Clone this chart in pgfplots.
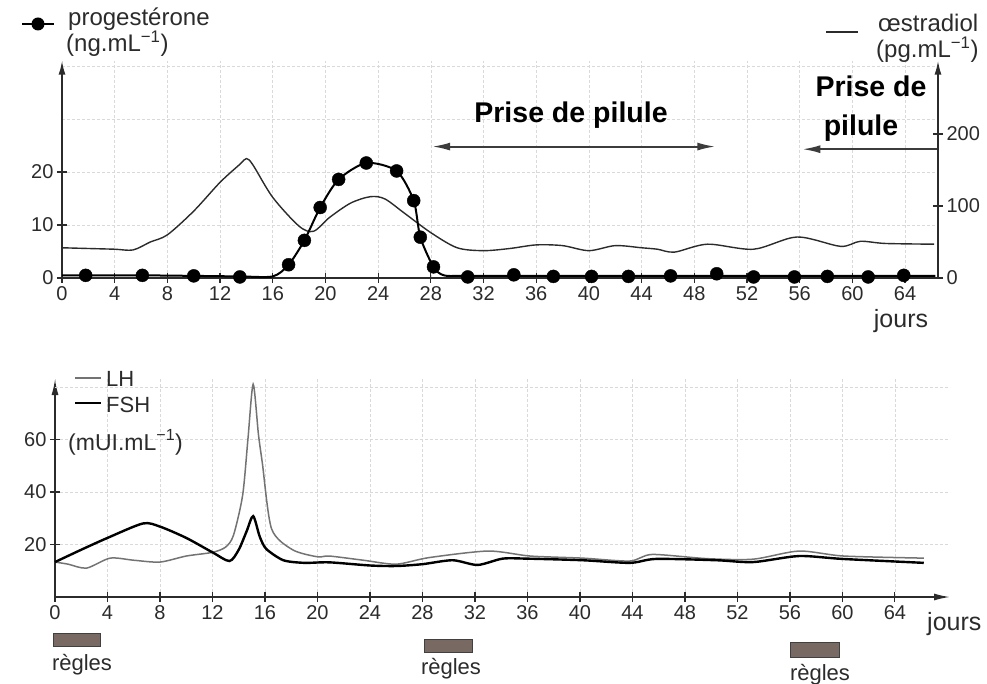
\documentclass[border=0pt]{standalone}
\usepackage{fontspec}
\setmainfont{Liberation Sans}
\usepackage{pgfplots}
\pgfplotsset{compat=1.18}
\usetikzlibrary{arrows.meta}
\definecolor{ink}{HTML}{2B2B2B}
\definecolor{gridc}{HTML}{D9D9D9}
\definecolor{regle}{HTML}{786A62}
\definecolor{arrowc}{HTML}{3C3C3C}
\newcommand{\fs}[1]{\fontsize{#1}{#1}\selectfont}
\begin{document}
\begin{tikzpicture}[x=1pt,y=1pt]
\useasboundingbox (0,0) rectangle (987,-684);
%=== top: grid only
\begin{axis}[at={(62pt,-278pt)}, anchor=south west, scale only axis,
  width=876pt, height=217.3pt, xmin=0, xmax=66.5, ymin=0, ymax=41,
  xtick={0,4,...,64}, ytick={0,10,20,30,40}, xticklabels={}, yticklabels={},
  axis line style={draw=none}, tick style={draw=none},
  grid=major, grid style={gridc, densely dashed, line width=0.6pt}]
\end{axis}
%=== top: oestradiol (right axis)
\begin{axis}[at={(62pt,-278pt)}, anchor=south west, scale only axis,
  width=876pt, height=217.3pt, xmin=0, xmax=66.5, ymin=0, ymax=302,
  axis x line=none, axis y line=right,
  y axis line style={-{Latex[length=14pt,width=7pt]}},
  axis line style={ink, line width=1.6pt},
  ytick={0,100,200}, tick style={ink, line width=1.2pt},
  major tick length=10pt, tick align=center,
  ticklabel style={font=\fs{20}, text=ink},
  /pgf/number format/assume math mode=true, clip=false]
\addplot[ink, line width=1.4pt, smooth, tension=0.5] coordinates {
(0,42) (2,41) (4,40) (5.4,39) (6.7,50) (8,60) (10,93) (12,133) (13.5,158) (14,166) (14.5,157)
(16,112) (18,72) (19.1,65) (20.3,84) (21.9,104) (23.4,113) (24.5,110) (26,90) (28,63)
(30,42) (32,38) (34,41) (36,46) (38,45) (40,38) (42,45) (44,42) (45.2,40) (46.5,36)
(49,47) (52.5,40) (55.8,57) (59.1,44) (60.6,51) (62.5,48) (66.2,47)};
\end{axis}
%=== top: progesterone (left axis)
\begin{axis}[at={(62pt,-278pt)}, anchor=south west, scale only axis,
  width=876pt, height=217.3pt, xmin=0, xmax=66.5, ymin=0, ymax=41,
  axis x line=bottom, axis y line=left,
  x axis line style={-}, y axis line style={-{Latex[length=14pt,width=7pt]}},
  axis line style={ink, line width=1.8pt},
  xtick={0,4,...,64}, ytick={0,10,20},
  tick style={ink, line width=1.2pt}, major tick length=10pt, tick align=center,
  ticklabel style={font=\fs{20}, text=ink},
  /pgf/number format/assume math mode=true, clip=false]
\addplot[black, line width=2pt, smooth, tension=0.45] coordinates {
(0,0.5) (1.8,0.5) (6.1,0.5) (10,0.4) (13.5,0.3) (16,0.3) (17.2,2.5) (18.4,7.1)
(19.6,13.3) (21,18.6) (23.1,21.7) (25.4,20.2) (26.7,14.6) (27.2,7.7) (28.2,2.1)
(29,0.5) (30.8,0.4) (40,0.4) (50,0.4) (60,0.4) (66.3,0.4)};
\addplot[only marks, mark=*, mark size=6.5pt, black] coordinates {
(1.8,0.5) (6.1,0.5) (10,0.4) (13.5,0.2) (17.2,2.5) (18.4,7.1) (19.6,13.3) (21,18.6)
(23.1,21.7) (25.4,20.2) (26.7,14.6) (27.2,7.7) (28.2,2.1) (30.8,0.2) (34.3,0.6)
(37.3,0.3) (40.2,0.3) (43,0.3) (46.2,0.4) (49.7,0.8) (52.5,0.2) (55.6,0.2)
(58.1,0.3) (61.2,0.2) (63.9,0.5)};
\draw[arrowc, line width=2pt, {Latex[length=18pt,width=8pt]}-{Latex[length=18pt,width=8pt]}]
  (axis cs:28.1,24.8) -- (axis cs:49.6,24.8);
\draw[arrowc, line width=2pt, -{Latex[length=18pt,width=8pt]}]
  (axis cs:66.4,24.3) -- (axis cs:56.2,24.3);
\end{axis}
% top annotations
\node[anchor=base, font=\bfseries\fs{28.5}, text=black] at (571,-123) {Prise de pilule};
\node[anchor=base, font=\bfseries\fs{28.5}, text=black] at (871,-97) {Prise de};
\node[anchor=base, font=\bfseries\fs{28.5}, text=black] at (861,-136) {pilule};
\node[anchor=base, inner sep=0pt, font=\fs{25}, text=ink] at (901,-327) {jours};
% top legends
\draw[black, line width=2.2pt] (22,-24) -- (54,-24);
\fill[black] (38,-24) circle (6.5);
\node[anchor=base west, inner sep=0pt, font=\fs{24}, text=ink] at (68,-26) {progestérone};
\node[anchor=base west, inner sep=0pt, font=\fs{24}, text=ink] at (66,-52) {(ng.mL\textsuperscript{−1})};
\draw[ink, line width=1.3pt] (826,-32) -- (858,-32);
\node[anchor=base west, inner sep=0pt, font=\fs{24}, text=ink] at (878,-32) {œstradiol};
\node[anchor=base west, inner sep=0pt, font=\fs{24}, text=ink] at (876,-58) {(pg.mL\textsuperscript{−1})};
%=== bottom: LH / FSH
\begin{axis}[at={(55pt,-597pt)}, anchor=south west, scale only axis,
  width=895pt, height=218pt, xmin=0, xmax=68.2, ymin=0, ymax=83,
  axis x line=bottom, axis y line=left,
  axis line style={ink, line width=1.6pt, -{Latex[length=16pt,width=7pt]}},
  xtick={0,4,...,64}, ytick={20,40,60},
  extra y ticks={80}, extra y tick labels={}, extra y tick style={major tick length=0pt},
  tick style={ink, line width=1.2pt}, major tick length=10pt, tick align=center,
  ticklabel style={font=\fs{20}, text=ink},
  grid=major, grid style={gridc, densely dashed, line width=0.6pt},
  /pgf/number format/assume math mode=true, clip=false]
\addplot[black!55, line width=1.5pt, smooth, tension=0.45] coordinates {
(0,13.3) (1,12.5) (2.4,11) (4.2,14.8) (6,14) (8,13.3) (10,15.6) (12,17) (13,19)
(13.6,23.5) (14.3,38.8) (14.7,60) (15.1,81) (15.5,62) (15.8,51) (16.5,26) (18.1,18)
(20,15.3) (20.9,15.6) (23.5,14) (26,12.5) (28.5,15) (33,17.5) (36.2,15.6) (40.2,14.8)
(43.8,13.7) (45.5,16.2) (49.7,14.6) (53.2,14.4) (56.7,17.5) (60.1,15.6) (66.2,14.8)};
\addplot[black, line width=2.4pt, smooth, tension=0.45] coordinates {
(0,13.3) (2,18) (4,22.5) (6.7,28) (8,26.8) (10,22.5) (12,17) (13.3,13.7) (14,18)
(14.6,25) (15.1,30.8) (15.6,23) (16.1,18.3) (17.4,14) (19,13) (20.9,13.2) (24,12)
(26,11.8) (28,12.5) (30.3,14) (32.2,12.2) (34.1,14.6) (36,14.6) (40.2,14) (43.8,13)
(45.8,14.5) (50.4,14) (53.2,13.3) (56.7,15.6) (60,14.5) (66.2,13)};
\end{axis}
% bottom annotations
\node[anchor=base west, inner sep=0pt, font=\fs{25}, text=ink] at (927,-630) {jours};
\draw[black!55, line width=1.5pt] (75,-378) -- (101,-378);
\node[anchor=base west, inner sep=0pt, font=\fs{22}, text=ink] at (106,-386) {LH};
\draw[black, line width=2.4pt] (75,-403) -- (101,-403);
\node[anchor=base west, inner sep=0pt, font=\fs{22}, text=ink] at (106,-412) {FSH};
\node[anchor=base west, inner sep=0pt, font=\fs{23}, text=ink] at (68,-450) {(mUI.mL\textsuperscript{−1})};
\filldraw[fill=regle, draw=black!75, line width=1pt] (53,-633) rectangle (100,-646);
\filldraw[fill=regle, draw=black!75, line width=1pt] (424,-639) rectangle (472,-652);
\filldraw[fill=regle, draw=black!75, line width=1pt] (790,-642) rectangle (839,-657);
\node[anchor=base, inner sep=0pt, font=\fs{22}, text=ink] at (82,-670) {règles};
\node[anchor=base, inner sep=0pt, font=\fs{22}, text=ink] at (451,-674) {règles};
\node[anchor=base, inner sep=0pt, font=\fs{22}, text=ink] at (820,-680) {règles};
\end{tikzpicture}
\end{document}
